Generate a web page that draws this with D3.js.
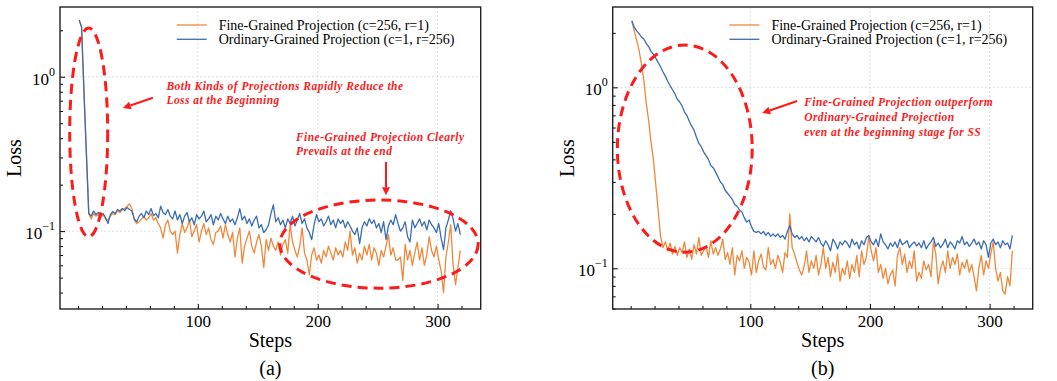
<!DOCTYPE html>
<html>
<head>
<meta charset="utf-8">
<script src="https://cdn.jsdelivr.net/npm/d3@7"></script>
<style>
  body { margin: 0; background: #fff; }
  text { font-family: "Liberation Serif", "Times New Roman", serif; }
</style>
</head>
<body>
<div id="plot"></div>
<script>
// training steps (every other step is kept)
const steps = d3.range(1, 320, 2);

// (a) loss values
const fineA = [
  2.33, 2.1, 0.80, 0.32, 0.13, 0.12, 0.13, 0.125, 0.128, 0.122,
  0.128, 0.12, 0.118, 0.125, 0.13, 0.128, 0.136, 0.132, 0.138, 0.14,
  0.145, 0.15, 0.14, 0.118, 0.112, 0.115, 0.12, 0.125, 0.118, 0.122,
  0.13, 0.118, 0.122, 0.112, 0.105, 0.09, 0.11, 0.118, 0.1, 0.095,
  0.1, 0.072, 0.095, 0.112, 0.098, 0.105, 0.118, 0.092, 0.1, 0.11,
  0.085, 0.1, 0.112, 0.095, 0.105, 0.088, 0.082, 0.098, 0.1, 0.108,
  0.09, 0.11, 0.095, 0.085, 0.098, 0.068, 0.09, 0.105, 0.062, 0.08,
  0.09, 0.1, 0.08, 0.072, 0.085, 0.095, 0.08, 0.058, 0.088, 0.075,
  0.09, 0.08, 0.075, 0.085, 0.07, 0.082, 0.088, 0.072, 0.11, 0.085,
  0.075, 0.068, 0.08, 0.105, 0.072, 0.065, 0.052, 0.07, 0.078, 0.065,
  0.07, 0.062, 0.075, 0.068, 0.08, 0.072, 0.065, 0.078, 0.07, 0.075,
  0.068, 0.085, 0.075, 0.1, 0.07, 0.078, 0.062, 0.072, 0.065, 0.08,
  0.07, 0.082, 0.065, 0.078, 0.072, 0.06, 0.075, 0.068, 0.08, 0.095,
  0.07, 0.078, 0.065, 0.065, 0.068, 0.048, 0.082, 0.065, 0.075, 0.06,
  0.072, 0.085, 0.065, 0.078, 0.06, 0.07, 0.092, 0.075, 0.068, 0.08,
  0.065, 0.055, 0.04, 0.068, 0.085, 0.11, 0.06, 0.045, 0.058, 0.075
];
const ordA = [
  2.33, 2.1, 0.80, 0.32, 0.13, 0.125, 0.135, 0.128, 0.132, 0.126,
  0.13, 0.122, 0.112, 0.128, 0.134, 0.13, 0.138, 0.135, 0.14, 0.136,
  0.142, 0.138, 0.135, 0.12, 0.115, 0.125, 0.13, 0.122, 0.135, 0.128,
  0.14, 0.126, 0.13, 0.122, 0.145, 0.132, 0.128, 0.138, 0.125, 0.12,
  0.135, 0.118, 0.128, 0.112, 0.125, 0.132, 0.115, 0.122, 0.11, 0.128,
  0.12, 0.125, 0.135, 0.115, 0.12, 0.128, 0.11, 0.125, 0.118, 0.13,
  0.12, 0.112, 0.125, 0.115, 0.12, 0.11, 0.122, 0.14, 0.118, 0.125,
  0.112, 0.12, 0.108, 0.118, 0.125, 0.105, 0.11, 0.098, 0.102, 0.11,
  0.13, 0.148, 0.115, 0.122, 0.11, 0.118, 0.105, 0.12, 0.112, 0.125,
  0.108, 0.118, 0.13, 0.112, 0.12, 0.105, 0.098, 0.088, 0.11, 0.128,
  0.115, 0.12, 0.108, 0.115, 0.125, 0.11, 0.118, 0.105, 0.12, 0.112,
  0.118, 0.105, 0.115, 0.108, 0.1, 0.095, 0.105, 0.083, 0.105, 0.115,
  0.108, 0.12, 0.112, 0.118, 0.105, 0.112, 0.098, 0.115, 0.088, 0.108,
  0.118, 0.11, 0.128, 0.112, 0.1, 0.105, 0.115, 0.092, 0.085, 0.118,
  0.105, 0.112, 0.12, 0.108, 0.115, 0.102, 0.118, 0.11, 0.105, 0.098,
  0.112, 0.09, 0.076, 0.105, 0.118, 0.135, 0.12, 0.1, 0.112, 0.095
];

// (b) loss values
const fineB = [
  2.33, 2.05, 1.82, 1.61, 1.35, 1.1, 0.82, 0.66, 0.5, 0.4,
  0.29, 0.21, 0.15, 0.13, 0.14, 0.125, 0.138, 0.12, 0.132, 0.118,
  0.13, 0.122, 0.14, 0.115, 0.128, 0.112, 0.135, 0.12, 0.148, 0.118,
  0.125, 0.132, 0.115, 0.142, 0.12, 0.13, 0.118, 0.128, 0.145, 0.112,
  0.122, 0.105, 0.13, 0.092, 0.118, 0.11, 0.125, 0.1, 0.115, 0.108,
  0.092, 0.125, 0.095, 0.11, 0.12, 0.102, 0.098, 0.13, 0.105, 0.112,
  0.1, 0.118, 0.108, 0.095, 0.122, 0.115, 0.2, 0.13, 0.12, 0.108,
  0.098, 0.092, 0.102, 0.125, 0.095, 0.11, 0.1, 0.118, 0.092, 0.105,
  0.13, 0.1, 0.115, 0.09, 0.108, 0.095, 0.12, 0.085, 0.1, 0.092,
  0.11, 0.088, 0.105, 0.095, 0.118, 0.09, 0.125, 0.105, 0.115, 0.15,
  0.125, 0.11, 0.13, 0.095, 0.105, 0.088, 0.1, 0.082, 0.092, 0.098,
  0.08, 0.118, 0.13, 0.105, 0.12, 0.095, 0.11, 0.1, 0.125, 0.085,
  0.095, 0.088, 0.11, 0.098, 0.105, 0.09, 0.14, 0.12, 0.082, 0.1,
  0.11, 0.095, 0.125, 0.1, 0.115, 0.105, 0.12, 0.092, 0.108, 0.1,
  0.112, 0.095, 0.105, 0.09, 0.075, 0.1, 0.118, 0.092, 0.11, 0.1,
  0.12, 0.14, 0.1, 0.085, 0.095, 0.075, 0.072, 0.09, 0.08, 0.125
];
const ordB = [
  2.33, 2.15, 2.05, 1.98, 1.9, 1.85, 1.75, 1.68, 1.58, 1.52,
  1.45, 1.37, 1.3, 1.22, 1.15, 1.08, 1.02, 0.97, 0.92, 0.86,
  0.83, 0.79, 0.73, 0.7, 0.65, 0.61, 0.58, 0.53, 0.49, 0.47,
  0.44, 0.42, 0.4, 0.37, 0.36, 0.34, 0.32, 0.3, 0.29, 0.27,
  0.26, 0.25, 0.24, 0.225, 0.22, 0.21, 0.205, 0.19, 0.18, 0.185,
  0.17, 0.16, 0.158, 0.16, 0.155, 0.16, 0.152, 0.158, 0.15, 0.155,
  0.15, 0.155, 0.148, 0.152, 0.145, 0.16, 0.172, 0.155, 0.148, 0.152,
  0.145, 0.15, 0.142, 0.148, 0.14, 0.15, 0.145, 0.14, 0.148, 0.138,
  0.132, 0.142, 0.135, 0.125, 0.145, 0.138, 0.128, 0.14, 0.135, 0.142,
  0.138, 0.13, 0.145, 0.135, 0.14, 0.128, 0.142, 0.135, 0.148, 0.152,
  0.14, 0.135, 0.145, 0.132, 0.155, 0.14, 0.135, 0.128, 0.138, 0.132,
  0.14, 0.13, 0.145, 0.135, 0.138, 0.142, 0.13, 0.136, 0.14, 0.133,
  0.138, 0.13, 0.142, 0.128, 0.135, 0.14, 0.148, 0.132, 0.138, 0.13,
  0.136, 0.145, 0.13, 0.14, 0.135, 0.128, 0.142, 0.138, 0.15, 0.135,
  0.14, 0.132, 0.138, 0.145, 0.135, 0.14, 0.128, 0.142, 0.135, 0.115,
  0.138, 0.145, 0.135, 0.14, 0.13, 0.142, 0.135, 0.138, 0.128, 0.152
];

const seriesNames = ["Fine-Grained Projection (c=256, r=1)", "Ordinary-Grained Projection (c=1, r=256)"];
const seriesColors = ["#f0883b", "#3a6db3"];
const xMajor = [100, 200, 300];
const xMinor = [0, 20, 40, 60, 80, 120, 140, 160, 180, 220, 240, 260, 280, 320];
const yMajor = [0.1, 1];
const yMinor = [0.04, 0.05, 0.06, 0.07, 0.08, 0.09, 0.2, 0.3, 0.4, 0.5, 0.6, 0.7, 0.8, 0.9, 2];

const W = 1057, H = 381;
const plotTop = 7, plotBottom = 309;

const svg = d3.select("#plot").append("svg")
  .attr("width", W)
  .attr("height", H);

function drawPanel(cfg) {
  const x = d3.scaleLinear().domain([-15, 336]).range([cfg.left, cfg.right]);
  const y = d3.scaleLog().domain(cfg.yDomain).range([plotBottom, plotTop]);
  const g = svg.append("g");

  // grid
  g.selectAll(".gx").data(xMajor).enter().append("line")
    .attr("x1", d => x(d)).attr("x2", d => x(d))
    .attr("y1", plotTop).attr("y2", plotBottom)
    .attr("stroke", "#d8d8d8").attr("stroke-width", 0.8).attr("stroke-dasharray", "2,2");
  g.selectAll(".gy").data(yMajor).enter().append("line")
    .attr("x1", cfg.left).attr("x2", cfg.right)
    .attr("y1", d => y(d)).attr("y2", d => y(d))
    .attr("stroke", "#d8d8d8").attr("stroke-width", 0.8).attr("stroke-dasharray", "2,2");

  // lines
  const line = d3.line().x((d, i) => x(steps[i])).y(d => y(d));
  cfg.series.forEach((s, k) => {
    g.append("path")
      .datum(s)
      .attr("d", line)
      .attr("fill", "none")
      .attr("stroke", seriesColors[k])
      .attr("stroke-width", 1.3)
      .attr("stroke-linejoin", "round");
  });

  // axes, ticks pointing inward
  const yMin = yMinor.filter(v => v >= cfg.yDomain[0] && v <= cfg.yDomain[1]);
  g.append("g").attr("transform", `translate(0,${plotBottom})`)
    .call(d3.axisBottom(x).tickValues(xMinor).tickSize(-3).tickFormat(""))
    .call(a => a.select(".domain").remove());
  g.append("g").attr("transform", `translate(0,${plotBottom})`)
    .call(d3.axisBottom(x).tickValues(xMajor).tickSize(-5).tickPadding(6))
    .call(a => a.select(".domain").remove())
    .call(a => a.selectAll("text")
      .style("font-family", "'Liberation Serif', serif")
      .style("font-size", "17px").attr("fill", "#000"));
  g.append("g").attr("transform", `translate(${cfg.left},0)`)
    .call(d3.axisLeft(y).tickValues(yMin).tickSize(-3).tickFormat(""))
    .call(a => a.select(".domain").remove());
  g.append("g").attr("transform", `translate(${cfg.left},0)`)
    .call(d3.axisLeft(y).tickValues(yMajor).tickSize(-5).tickFormat(""))
    .call(a => a.select(".domain").remove());
  g.selectAll(".tick line").attr("stroke", "#000").attr("stroke-width", 1);

  // y tick labels as powers of ten
  yMajor.forEach(v => {
    const t = g.append("text")
      .attr("x", cfg.left - 5)
      .attr("y", y(v) + 8)
      .attr("text-anchor", "end")
      .style("font-size", "17px");
    t.append("tspan").text("10");
    t.append("tspan")
      .attr("dy", -9)
      .style("font-size", "12px")
      .text(v === 1 ? "0" : "\u22121");
  });

  // frame
  g.append("rect")
    .attr("x", cfg.left).attr("y", plotTop)
    .attr("width", cfg.right - cfg.left).attr("height", plotBottom - plotTop)
    .attr("fill", "none").attr("stroke", "#222").attr("stroke-width", 1.4);

  // axis titles
  g.append("text")
    .attr("transform", `translate(${cfg.left - 46},${(plotTop + plotBottom) / 2}) rotate(-90)`)
    .attr("text-anchor", "middle")
    .attr("dy", "0.35em")
    .style("font-size", "20px")
    .text("Loss");
  g.append("text")
    .attr("x", (cfg.left + cfg.right) / 2).attr("y", 347)
    .attr("text-anchor", "middle")
    .style("font-size", "20px")
    .text("Steps");
  g.append("text")
    .attr("x", (cfg.left + cfg.right) / 2).attr("y", 375)
    .attr("text-anchor", "middle")
    .style("font-size", "20px")
    .text(cfg.caption);

  // legend
  seriesNames.forEach((name, k) => {
    const ly = 25 + k * 14.3;
    g.append("line")
      .attr("x1", cfg.left + 116.7).attr("x2", cfg.left + 146.7)
      .attr("y1", ly).attr("y2", ly)
      .attr("stroke", seriesColors[k]).attr("stroke-width", 1.3);
    g.append("text")
      .attr("x", cfg.left + 158.7).attr("y", ly + 5)
      .style("font-size", "14px")
      .text(name);
  });

  // red annotations
  cfg.ellipses.forEach(e => {
    const x0 = x(e[0]), x1 = x(e[1]), y0 = y(e[2]), y1 = y(e[3]);
    g.append("ellipse")
      .attr("cx", (x0 + x1) / 2).attr("cy", (y0 + y1) / 2)
      .attr("rx", Math.abs(x1 - x0) / 2).attr("ry", Math.abs(y1 - y0) / 2)
      .attr("fill", "none").attr("stroke", "#ff1a1a")
      .attr("stroke-width", 3).attr("stroke-dasharray", "10,6");
  });
  cfg.arrows.forEach(a => {
    const x0 = x(a[0]), y0 = y(a[1]), x1 = x(a[2]), y1 = y(a[3]);
    const ang = Math.atan2(y1 - y0, x1 - x0);
    const hl = 8, hw = 4;
    const bx = x1 - hl * Math.cos(ang), by = y1 - hl * Math.sin(ang);
    g.append("line")
      .attr("x1", x0).attr("y1", y0).attr("x2", bx).attr("y2", by)
      .attr("stroke", "#ff1a1a").attr("stroke-width", 2);
    g.append("path")
      .attr("d", `M${x1},${y1}L${bx - hw * Math.sin(ang)},${by + hw * Math.cos(ang)}L${bx + hw * Math.sin(ang)},${by - hw * Math.cos(ang)}Z`)
      .attr("fill", "#ff1a1a");
  });
  cfg.notes.forEach(n => {
    const t = g.append("text")
      .attr("x", x(n.step)).attr("y", y(n.loss))
      .attr("fill", "#ff1a1a")
      .style("font-size", "11.5px")
      .style("font-weight", "bold")
      .style("font-style", "italic")
      .style("letter-spacing", "0.45px");
    n.lines.forEach((l, i) => {
      t.append("tspan").attr("x", x(n.step)).attr("dy", i === 0 ? 0 : n.gap).text(l);
    });
  });
}

drawPanel({
  left: 60, right: 480.7, yDomain: [0.0313, 2.83], caption: "(a)",
  series: [fineA, ordA],
  ellipses: [[-6.9, 24.8, 2.07, 0.092], [168.4, 333.9, 0.159, 0.0427]],
  arrows: [[62.5, 0.731, 37.4, 0.627], [257, 0.281, 257, 0.171]],
  notes: [
    { step: 73.8, loss: 0.82, gap: 14.3, lines: ["Both Kinds of Projections Rapidly Reduce the", "Loss at the Beginning"] },
    { step: 181.9, loss: 0.383, gap: 14.3, lines: ["Fine-Grained Projection Clearly", "Prevails at the end"] }
  ]
});

drawPanel({
  left: 612.7, right: 1032.7, yDomain: [0.0596, 2.78], caption: "(b)",
  series: [fineB, ordB],
  ellipses: [[-11.1, 101.6, 1.713, 0.1227]],
  arrows: [[139.2, 0.84, 109.9, 0.721]],
  notes: [
    { step: 145, loss: 0.788, gap: 15, lines: ["Fine-Grained Projection outperform", "Ordinary-Grained Projection", "even at the beginning stage for SS"] }
  ]
});
</script>
</body>
</html>
